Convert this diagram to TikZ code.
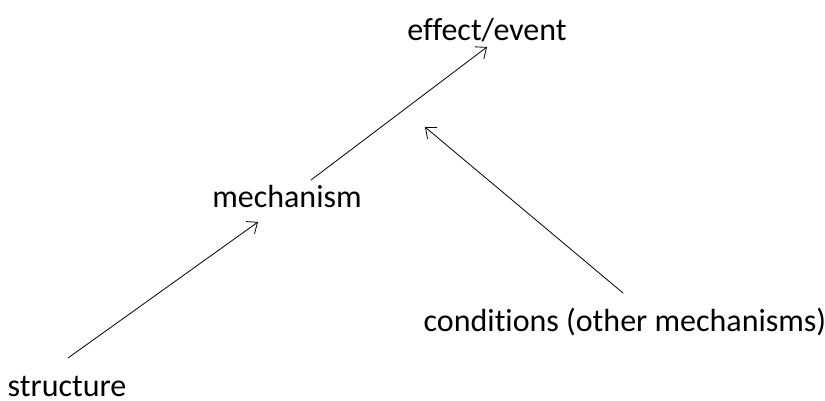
\documentclass[tikz,border=0pt]{standalone}
\usepackage{fontspec}
\setmainfont{Carlito}[Ligatures={NoCommon,NoContextual}]
\usetikzlibrary{arrows.meta}
\begin{document}
\begin{tikzpicture}[x=1pt, y=1pt, font=\fontsize{32}{38}\selectfont, line join=round, line cap=round, >={Straight Barb[length=9pt,width=15pt]}]
\useasboundingbox (0,0) rectangle (825,400);
\path
(67,14) node[inner sep=0] (structure) {structure}
(287,203) node[inner sep=0] (mechanism) {mechanism}
(487,370) node[inner sep=0] (effect) {effect/event}
(625,78) node[inner sep=0] (conditions) {conditions (other mechanisms)}
;
\coordinate (cause) at ([shift={(-62,-97)}]effect.center);
\draw[->, line width=0.8pt] ([shift={(1,28)}]structure.center) -- ([shift={(-29,-25)}]mechanism.center);
\draw[->, line width=0.8pt] ([shift={(24,17)}]mechanism.center) -- ([shift={(0,-17)}]effect.center);
\draw[->, line width=0.8pt] ([shift={(-2,29)}]conditions.center) -- (cause);
\end{tikzpicture}
\end{document}
